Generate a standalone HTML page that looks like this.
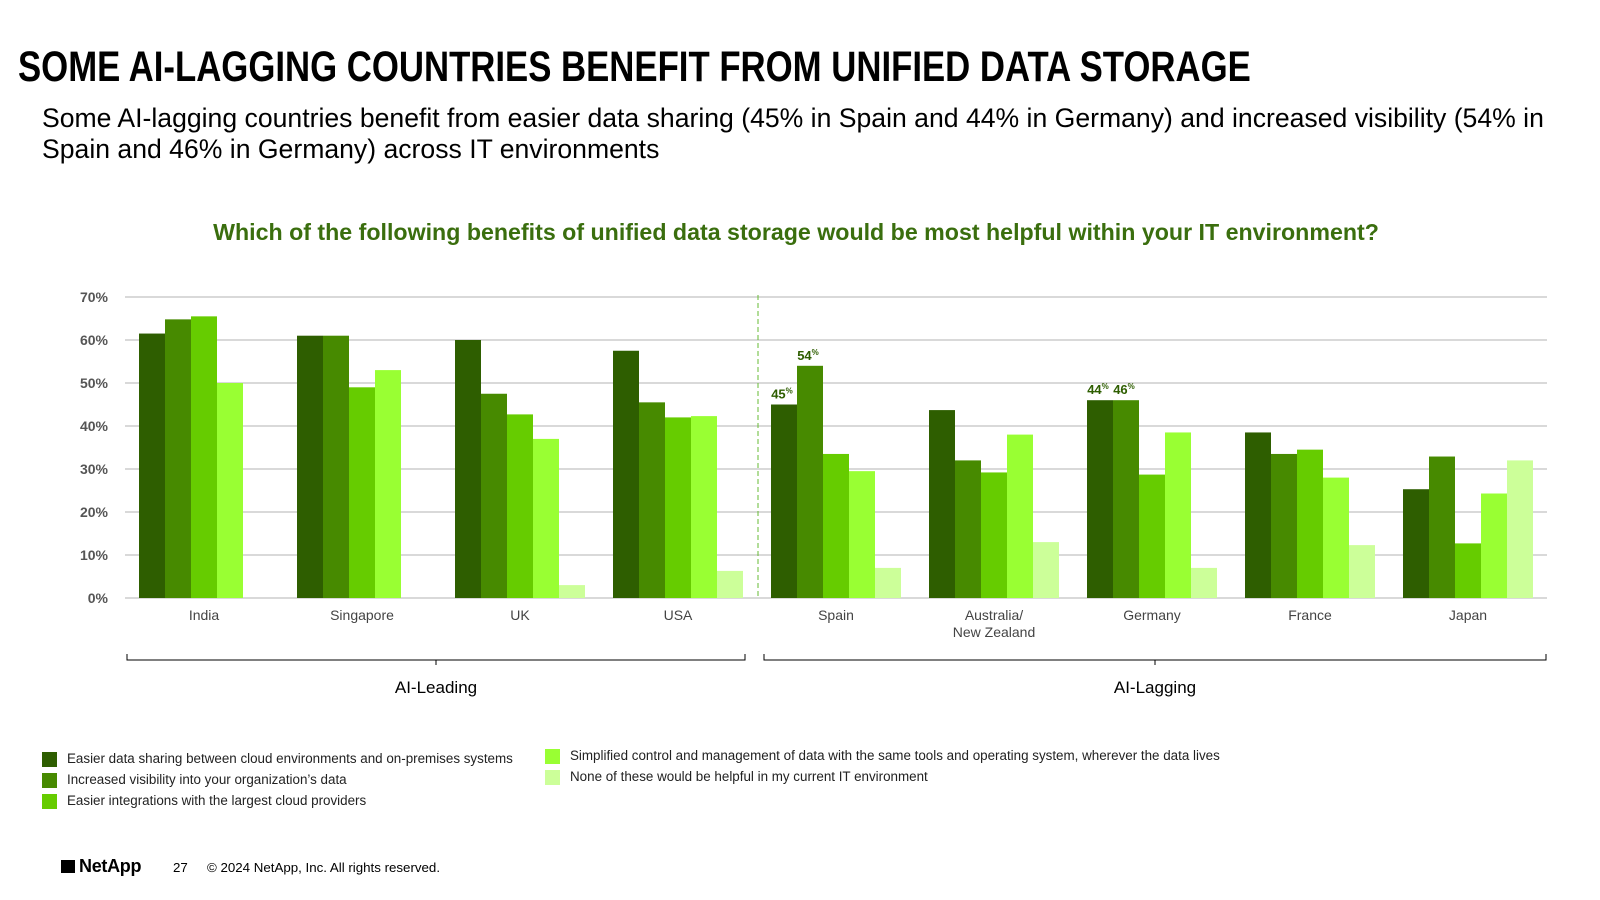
<!DOCTYPE html>
<html><head><meta charset="utf-8"><style>
body{margin:0;width:1600px;height:900px;background:#fff;font-family:"Liberation Sans",sans-serif;position:relative;overflow:hidden}
.abs{position:absolute;white-space:nowrap}
</style></head><body>
<div class="abs" style="left:18px;top:43px;font-size:43px;font-weight:bold;color:#000;transform:scaleX(0.808);transform-origin:left top">SOME AI-LAGGING COUNTRIES BENEFIT FROM UNIFIED DATA STORAGE</div>
<div class="abs" style="left:42px;top:103px;font-size:26.6px;line-height:31px;color:#000">Some AI-lagging countries benefit from easier data sharing (45% in Spain and 44% in Germany) and increased visibility (54% in<br>Spain and 46% in Germany) across IT environments</div>
<div class="abs" style="left:0;width:1592px;text-align:center;top:219px;font-size:23.2px;font-weight:bold;color:#3a6e0e">Which of the following benefits of unified data storage would be most helpful within your IT environment?</div>
<svg class="abs" style="left:0;top:0" width="1600" height="900" id="chart"></svg>
<div>
<div class="abs" style="left:42px;top:751px;font-size:13.4px;color:#222"><span style="display:inline-block;width:15px;height:15px;background:#2e5e00;vertical-align:middle;margin-right:10px"></span>Easier data sharing between cloud environments and on-premises systems</div>
<div class="abs" style="left:42px;top:772px;font-size:13.4px;color:#222"><span style="display:inline-block;width:15px;height:15px;background:#478a00;vertical-align:middle;margin-right:10px"></span>Increased visibility into your organization’s data</div>
<div class="abs" style="left:42px;top:793px;font-size:13.4px;color:#222"><span style="display:inline-block;width:15px;height:15px;background:#66cc00;vertical-align:middle;margin-right:10px"></span>Easier integrations with the largest cloud providers</div>
<div class="abs" style="left:545px;top:748px;font-size:13.4px;color:#222"><span style="display:inline-block;width:15px;height:15px;background:#99ff33;vertical-align:middle;margin-right:10px"></span>Simplified control and management of data with the same tools and operating system, wherever the data lives</div>
<div class="abs" style="left:545px;top:769px;font-size:13.4px;color:#222"><span style="display:inline-block;width:15px;height:15px;background:#ccff99;vertical-align:middle;margin-right:10px"></span>None of these would be helpful in my current IT environment</div>
</div>
<div class="abs" style="left:61px;top:856px;font-size:18px;font-weight:bold;color:#000;letter-spacing:-0.3px"><span style="display:inline-block;width:14px;height:13px;background:#000;margin-right:4px;vertical-align:-1px"></span>NetApp</div>
<div class="abs" style="left:173px;top:860px;font-size:13.3px">27</div>
<div class="abs" style="left:207px;top:860px;font-size:13.3px">© 2024 NetApp, Inc. All rights reserved.</div>
<script>
const categories=["India","Singapore","UK","USA","Spain","Australia/\nNew Zealand","Germany","France","Japan"];
const seriesSharing=[61.5,61,60,57.5,45,43.7,46,38.5,25.3];
const seriesVisibility=[64.8,61,47.5,45.5,54,32,46,33.5,32.9];
const seriesIntegrations=[65.5,49,42.7,42,33.5,29.2,28.7,34.5,12.7];
const seriesSimplified=[50,53,37,42.3,29.5,38,38.5,28,24.3];
const seriesNone=[0,0,3,6.3,7,13,7,12.3,32];
const yTicks=[0,10,20,30,40,50,60,70];
const annotations=[{g:4,s:0,t:"45"},{g:4,s:1,t:"54"},{g:6,s:0,t:"44"},{g:6,s:1,t:"46"}];
const colors=["#2e5e00","#478a00","#66cc00","#99ff33","#ccff99"];
const series=[seriesSharing,seriesVisibility,seriesIntegrations,seriesSimplified,seriesNone];
const svg=document.getElementById('chart');const NS="http://www.w3.org/2000/svg";
const x0=125,x1=1547,y0=598,yTop=297,ymax=70;
const gw=(x1-x0)/categories.length,bw=26;
const y=v=>y0-(v/ymax)*(y0-yTop);
const gx=i=>x0+gw*i+gw/2;
function mk(t,a,txt){const e=document.createElementNS(NS,t);for(const k in a)e.setAttribute(k,a[k]);if(txt!=null)e.textContent=txt;svg.appendChild(e);return e;}
yTicks.forEach(t=>{
const l=mk('line',{x1:x0,x2:x1,y1:y(t),y2:y(t),stroke:'#d9d9d9','stroke-width':2});


const tx=mk('text',{x:108,y:y(t)+5,'text-anchor':'end','font-size':14,'font-weight':'bold',fill:'#555'},t+'%');


});
const dl=mk('line',{x1:758,x2:758,y1:295,y2:598,stroke:'#66bb33','stroke-width':1,'stroke-dasharray':'5,3'});


categories.forEach((c,i)=>{
series.forEach((s,j)=>{
const v=s[i];if(!v)return;
const r=mk('rect',{x:gx(i)-2.5*bw+j*bw,y:y(v),width:bw,height:y0-y(v),fill:colors[j]});


});
c.split('\n').forEach((ln,k)=>{
const t=mk('text',{x:gx(i),y:620+k*17,'text-anchor':'middle','font-size':14,fill:'#444'},ln);


});
});
annotations.forEach(a=>{
const v=series[a.s][a.g];
const t=mk('text',{x:gx(a.g)-2.5*bw+a.s*bw+bw/2-2,y:y(v)-6,'text-anchor':'middle','font-size':13,'font-weight':'bold',fill:'#2e5e00'},a.t);


const p=mk('tspan',{'font-size':8,dy:-5},'%');t.appendChild(p);
});
[[127,745,"AI-Leading"],[764,1546,"AI-Lagging"]].forEach(b=>{
const g=mk('path',{d:`M${b[0]} 654V660H${b[1]}V654M${(b[0]+b[1])/2} 660V665`,stroke:'#000',fill:'none','stroke-width':1});


const t=mk('text',{x:(b[0]+b[1])/2,y:693,'text-anchor':'middle','font-size':17,fill:'#000'},b[2]);


});
</script>
</body></html>
